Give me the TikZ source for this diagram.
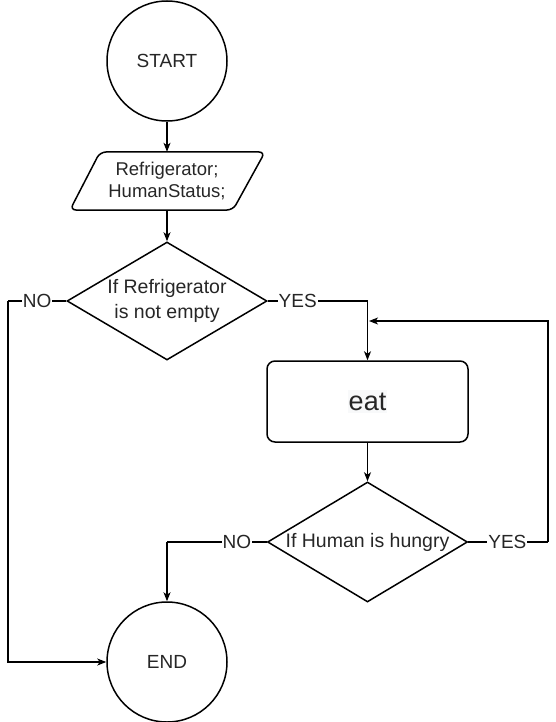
\documentclass[tikz,border=0pt]{standalone}
\usepackage{fontspec}
\setmainfont{Liberation Sans}
\usetikzlibrary{shapes.geometric,arrows.meta}
\begin{document}
\begin{tikzpicture}[x=1pt,y=-1pt,
  base/.style={line width=1.5pt,draw=black,text=black!85,font=\fontsize{19}{22}\selectfont},
  term/.style={base,circle,minimum size=120pt,inner sep=0pt},
  dia/.style={base,diamond,inner sep=0pt,minimum width=200pt,minimum height=118pt},
  proc/.style={base,rectangle,rounded corners=8pt,minimum width=201pt,minimum height=81pt},
  txt/.style={text=black!85,align=center,inner sep=0pt},
  arr/.style={line width=1.1pt,-{Stealth[length=9pt,width=7pt,inset=2.5pt]}},
  ln/.style={line width=1.1pt},
  lbl/.style={fill=white,text=black!85,inner sep=1pt,font=\fontsize{19}{22}\selectfont}]
\useasboundingbox (0,0) rectangle (556,722);
% START
\node[term] (start) at (167,61) {START};
% input parallelogram
\draw[line width=1.5pt,rounded corners=6pt] (100,152) -- (265,152) -- (233,210) -- (70,210) -- cycle;
\node[txt,minimum width=195pt,minimum height=58pt,font=\fontsize{18.5}{21.5}\selectfont] (inp) at (167,181) {Refrigerator;\\HumanStatus;};
% decision 1
\node[dia] (d1) at (167,301) {};
\node[txt,font=\fontsize{19.5}{24.5}\selectfont] (d1t) at (d1) {If Refrigerator\\is not empty};
% eat
\node[proc,font=\fontsize{27}{30}\selectfont] (eat) at (367.5,401.5) {\colorbox[RGB]{248,249,250}{\kern-2pt eat\kern-2pt}};
% decision 2
\node[dia,minimum height=120pt] (d2) at (367.5,542) {};
\node[txt,font=\fontsize{19.5}{24}\selectfont] (d2t) at (d2) {If Human is hungry};
% END
\node[term] (end) at (167,662) {END};
% coordinates
\coordinate (c1) at (8,301);
\coordinate (c2) at (eat.north |- d1.east);
\coordinate (c3) at (548,542);
\coordinate (c4) at (548,321);
\coordinate (j) at (369,321);
\coordinate (c5) at (end.north |- d2.west);
% connectors
\draw[arr] (start.south) -- (inp.north);
\draw[arr] (inp.south) -- (d1.north);
\draw[ln] (d1.west) -- node[lbl]{NO} (c1);
\draw[arr] (c1) |- (end.west);
\draw[ln] (d1.east) -- node[lbl,pos=0.3]{YES} (c2);
\draw[arr] (c2) -- (eat.north);
\draw[arr] (eat.south) -- (d2.north);
\draw[ln] (d2.east) -- node[lbl,pos=0.49]{YES} (c3);
\draw[arr] (c3) -- (c4) -- (j);
\draw[ln] (d2.west) -- node[lbl,pos=0.3]{NO} (c5);
\draw[arr] (c5) -- (end.north);
\end{tikzpicture}
\end{document}
